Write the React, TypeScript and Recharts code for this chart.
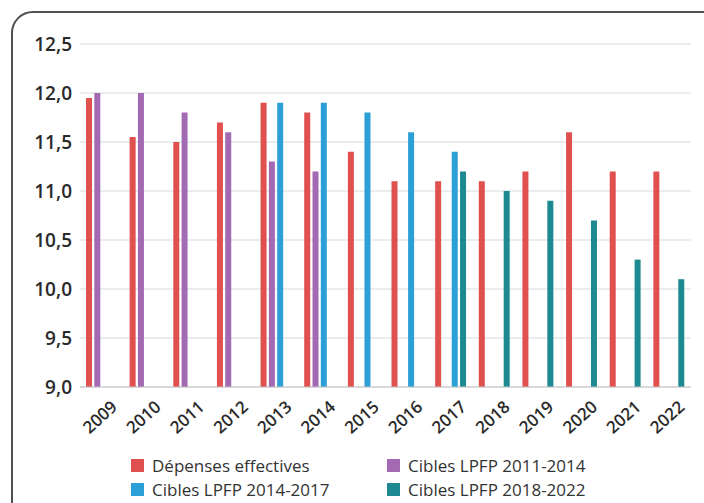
import React from 'react';
import { BarChart, Bar, XAxis, YAxis, CartesianGrid } from 'recharts';

const years = ['2009', '2010', '2011', '2012', '2013', '2014', '2015', '2016', '2017', '2018', '2019', '2020', '2021', '2022'];
const depensesEffectives = [11.95, 11.55, 11.5, 11.7, 11.9, 11.8, 11.4, 11.1, 11.1, 11.1, 11.2, 11.6, 11.2, 11.2];
const cibles2011_2014 = [12.0, 12.0, 11.8, 11.6, 11.3, 11.2, null, null, null, null, null, null, null, null];
const cibles2014_2017 = [null, null, null, null, 11.9, 11.9, 11.8, 11.6, 11.4, null, null, null, null, null];
const cibles2018_2022 = [null, null, null, null, null, null, null, null, 11.2, 11.0, 10.9, 10.7, 10.3, 10.1];
const yTicks = [9, 9.5, 10, 10.5, 11, 11.5, 12, 12.5];

const series = [
  { key: 'depenses', name: 'Dépenses effectives', color: '#e0504f' },
  { key: 'c2011', name: 'Cibles LPFP 2011-2014', color: '#a369b3' },
  { key: 'c2014', name: 'Cibles LPFP 2014-2017', color: '#2c9fd6' },
  { key: 'c2018', name: 'Cibles LPFP 2018-2022', color: '#1c8a90' },
];

const data = years.map((year, i) => ({
  year,
  depenses: depensesEffectives[i],
  c2011: cibles2011_2014[i],
  c2014: cibles2014_2017[i],
  c2018: cibles2018_2022[i],
}));

const FONT = '"Open Sans", "DejaVu Sans", sans-serif';

const XTick = (props: any) => {
  const { x, y, payload } = props;
  const cx = x - 1;
  const cy = y + 23;
  return (
    <text
      x={cx}
      y={cy}
      textAnchor="middle"
      dominantBaseline="middle"
      transform={`rotate(-42, ${cx}, ${cy})`}
      fontFamily={FONT}
      fontSize={17}
      fontWeight={600}
      fill="#2a2a2a"
    >
      {payload.value}
    </text>
  );
};

const legendRows = [
  [series[0], series[1]],
  [series[2], series[3]],
];

export default function App() {
  return (
    <div style={{ position: 'fixed', left: 0, top: 0, width: 704, height: 503, overflow: 'hidden', background: '#fff' }}>
      {/* rounded frame, cut off on the right and bottom like the scan */}
      <div
        style={{
          position: 'absolute',
          left: 11,
          top: 11,
          width: 720,
          height: 540,
          border: '2px solid #505050',
          borderRadius: 22,
          boxSizing: 'border-box',
        }}
      />
      <div style={{ position: 'absolute', left: 0, top: 0 }}>
        <BarChart
          width={704}
          height={503}
          data={data}
          margin={{ top: 44, right: 13, left: 0, bottom: 56 }}
          barSize={6}
          barGap={2.3}
        >
          <CartesianGrid vertical={false} stroke="#d3dbe0" />
          <XAxis
            dataKey="year"
            height={60}
            interval={0}
            tickLine={false}
            axisLine={{ stroke: '#c4c4c4' }}
            tick={<XTick />}
          />
          <YAxis
            width={80}
            domain={[9, 12.5]}
            ticks={yTicks}
            allowDataOverflow
            axisLine={false}
            tickLine={false}
            tickFormatter={(v: number) => v.toFixed(1).replace('.', ',')}
            tick={{ fontFamily: FONT, fontSize: 19, fontWeight: 600, fill: '#2a2a2a' }}
          />
          {series.map((s) => (
            <Bar key={s.key} dataKey={s.key} name={s.name} fill={s.color} isAnimationActive={false} />
          ))}
        </BarChart>
      </div>
      {/* legend */}
      {legendRows.map((row, r) => (
        <div key={r}>
          {row.map((s, c) => (
            <div
              key={s.key}
              style={{
                position: 'absolute',
                left: c === 0 ? 131 : 387,
                top: (r === 0 ? 465 : 489) - 10,
                height: 20,
                display: 'flex',
                alignItems: 'center',
                fontFamily: FONT,
                fontSize: 17,
                color: '#333',
                whiteSpace: 'nowrap',
              }}
            >
              <span style={{ display: 'inline-block', width: 13, height: 13, background: s.color, marginRight: 8 }} />
              {s.name}
            </div>
          ))}
        </div>
      ))}
    </div>
  );
}
